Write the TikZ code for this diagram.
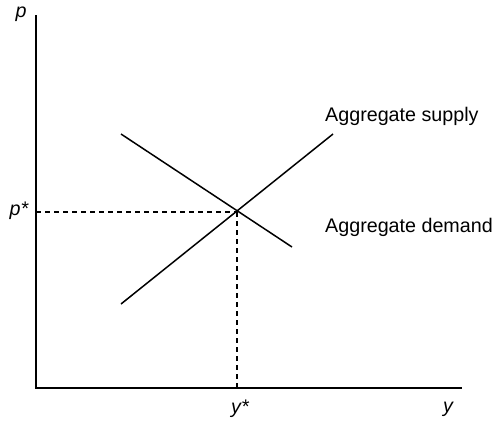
\documentclass[tikz,border=0pt]{standalone}
\usepackage{fontspec}
\setmainfont{Liberation Sans}
\usetikzlibrary{positioning}

\tikzset{
    axis/.style={line width=1.7pt},
    curve/.style={line width=1.5pt},
    guide/.style={line width=1.4pt, dash pattern=on 5pt off 4pt},
    lbl/.style={font=\fontsize{19.7}{23}\selectfont, inner sep=0pt},
    var/.style={font=\fontsize{19.7}{23}\selectfont\itshape, inner sep=0pt}
}

\begin{document}
\begin{tikzpicture}[x=1pt,y=-1pt]
    \useasboundingbox (0,0) rectangle (494,421);
    % Achsen:
    \coordinate (O) at (36,388);
    \coordinate (ptop) at (36,15);
    \coordinate (yend) at (462,388);
    \draw[axis] (ptop) -- (O) -- (yend);
    \node[var] (p) at (21,14) {p};
    \node[var] (y) at (448,409) {y};
    % Kurven:
    \coordinate (dA) at (121,134); % Nachfrage oben
    \coordinate (dB) at (292,247); % Nachfrage unten
    \coordinate (sA) at (121,304); % Angebot unten
    \coordinate (sB) at (333,134); % Angebot oben
    \draw[curve] (dA) -- (dB);
    \draw[curve] (sA) -- (sB);
    \node[lbl, anchor=west] (supply) at (325,116) {Aggregate supply};
    \node[lbl, anchor=west] (demand) at (325,227) {Aggregate demand};
    % Gleichgewicht:
    \coordinate (E) at (237,212);
    \coordinate (Ep) at (36,212);
    \coordinate (Ey) at (237,388);
    \draw[guide] (Ep) -- (E);
    \draw[guide] (E) -- (Ey);
    \node[var] (pstar) at (19,211) {p*};
    \node[var] (ystar) at (240,409) {y*};
\end{tikzpicture}
\end{document}
